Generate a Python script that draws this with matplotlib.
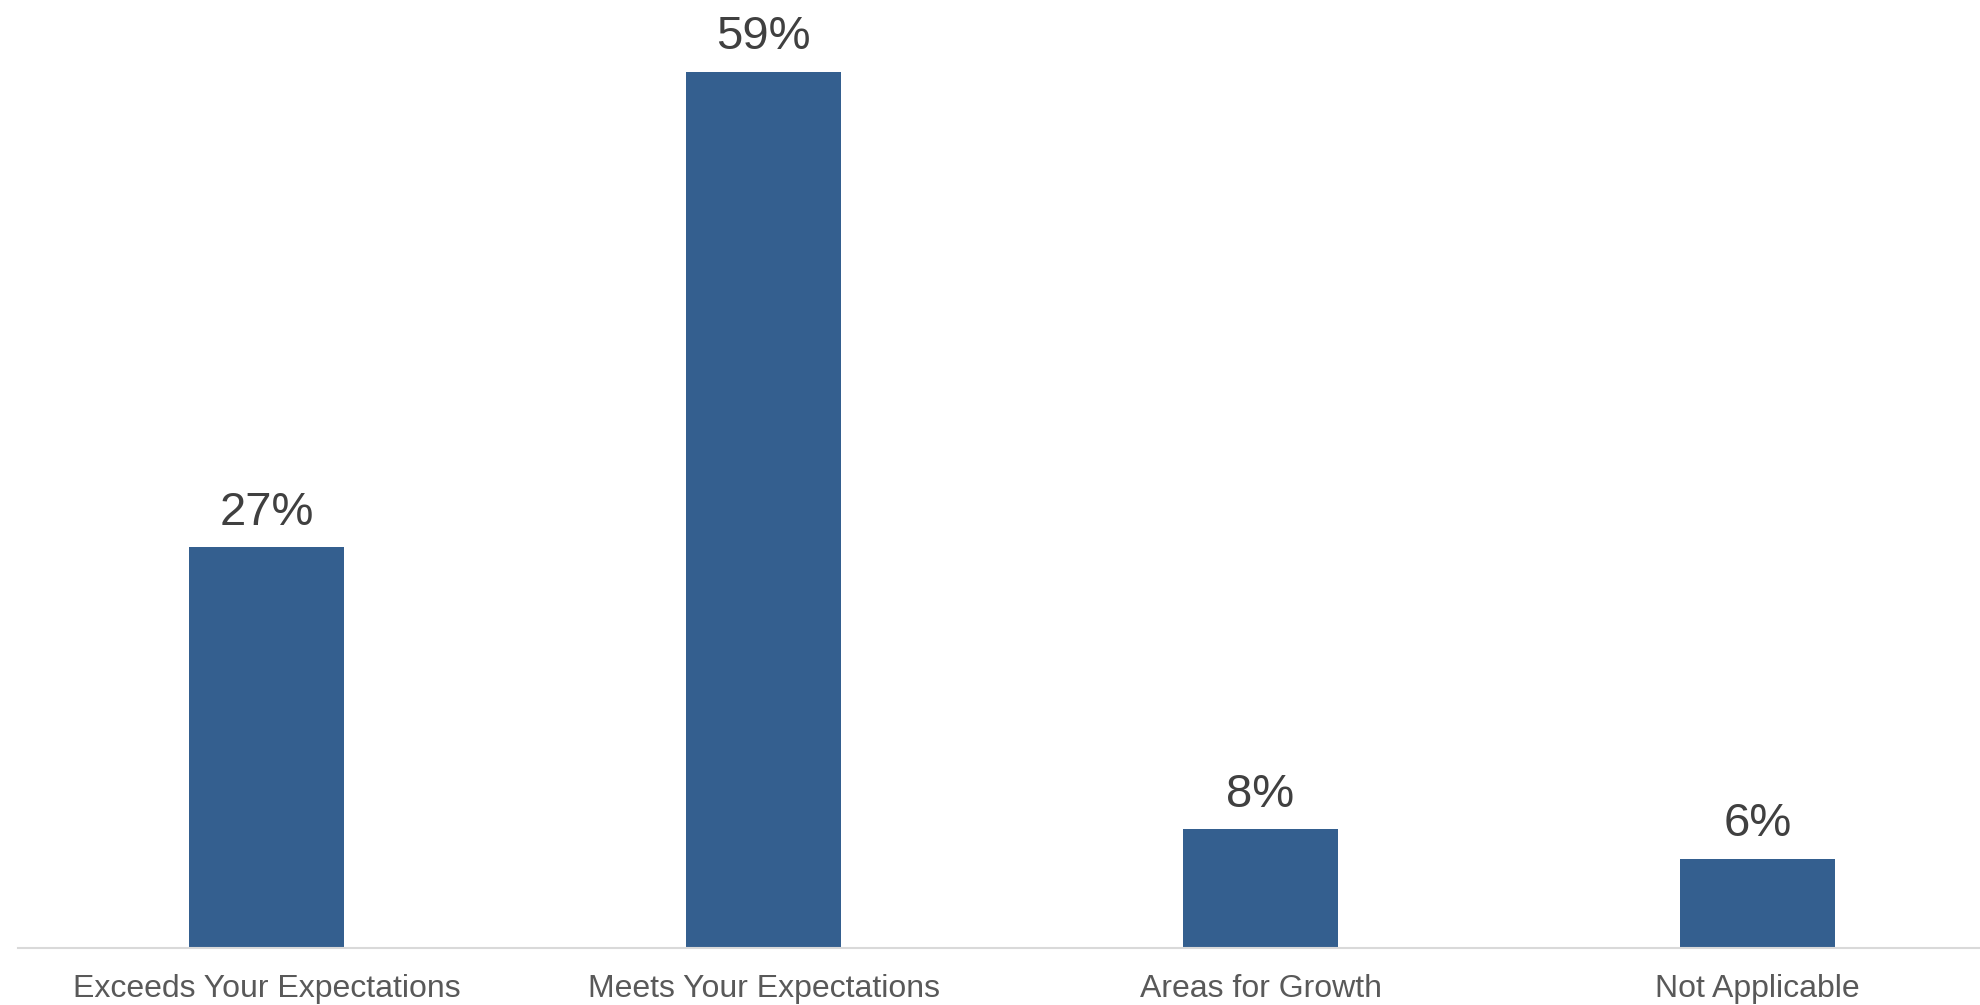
import matplotlib
matplotlib.use("Agg")
import matplotlib.pyplot as plt

categories = ["Exceeds Your Expectations", "Meets Your Expectations",
              "Areas for Growth", "Not Applicable"]
values = [27, 59, 8, 6]
value_labels = ["27%", "59%", "8%", "6%"]

plt.rcParams["font.family"] = ["Liberation Sans", "DejaVu Sans"]

W, H, DPI = 1980, 1005, 100
fig = plt.figure(figsize=(W / DPI, H / DPI), dpi=DPI)
fig.patch.set_facecolor("white")

left_px, base_px = 18, 948
ax = fig.add_axes([left_px / W, (H - base_px) / H, (W - left_px) / W, base_px / H])

step_px = 497
x = list(range(len(categories)))
ax.bar(x, values, width=0.312, color="#345f8f", zorder=2)

ax.set_xlim(-0.5, (W - left_px) / step_px - 0.5)
ax.set_ylim(0, base_px / 14.85)

for xi, v, lab in zip(x, values, value_labels):
    ax.annotate(lab, (xi, v), xytext=(0, 9), textcoords="offset points",
                ha="center", va="bottom", fontsize=34, color="#404040")

ax.set_xticks(x)
ax.set_xticklabels(categories, fontsize=23, color="#595959")
ax.tick_params(axis="x", length=0, pad=18.5)
ax.set_yticks([])

for side in ("top", "right", "left"):
    ax.spines[side].set_visible(False)
ax.spines["bottom"].set_color("#d9d9d9")
ax.spines["bottom"].set_linewidth(1.5)
ax.set_facecolor("white")

fig.savefig("out.png", dpi=DPI, facecolor="white")
